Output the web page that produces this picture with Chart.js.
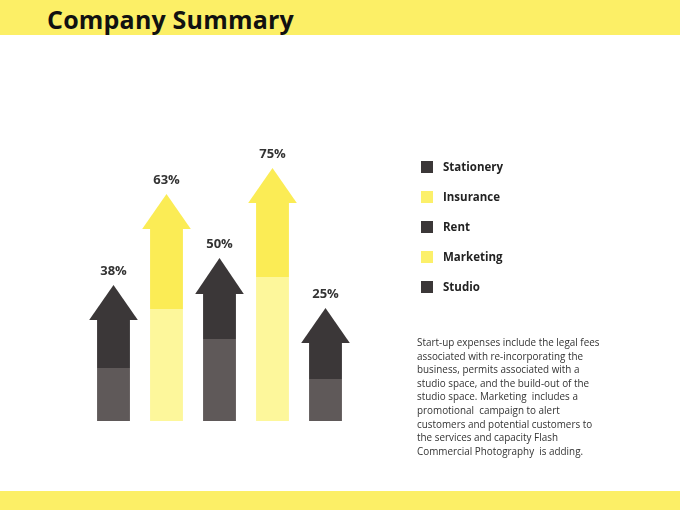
<!DOCTYPE html>
<html>
<head>
<meta charset="utf-8">
<script src="https://cdn.jsdelivr.net/npm/chart.js@4.4.1/dist/chart.umd.min.js"></script>
<style>
  html, body { margin: 0; padding: 0; background: #fff; }
  body { width: 680px; height: 510px; position: relative; overflow: hidden; font-family: "Open Sans", sans-serif; }
  #topbar { position: absolute; left: 0; top: 0; width: 680px; height: 35px; background: #fcef66; }
  #title { position: absolute; left: 47px; top: 2px; font-size: 25px; font-weight: 700; color: #111; letter-spacing: 0.2px; }
  #bottombar { position: absolute; left: 0; top: 491px; width: 680px; height: 19px; background: #fcef66; }
  #chartbox { position: absolute; left: 0; top: 0; width: 680px; height: 510px; }
  .leg { position: absolute; left: 421px; height: 14px; font-size: 11.5px; font-weight: 700; color: #222; }
  .leg span.sw { position: absolute; left: 0; top: 1px; width: 12px; height: 12px; }
  .leg span.tx { position: absolute; left: 22px; top: -1px; white-space: nowrap; }
  #note { position: absolute; left: 417px; top: 336px; white-space: nowrap; font-size: 9.9px; line-height: 13.6px; color: #333; }
</style>
</head>
<body>
<div id="topbar"></div>
<div id="title">Company Summary</div>
<div id="bottombar"></div>
<div id="chartbox"><canvas id="arrows"></canvas></div>
<div id="legend"></div>
<div id="note">Start-up expenses include the legal fees<br>associated with re-incorporating the<br>business, permits associated with a<br>studio space, and the build-out of the<br>studio space. Marketing&nbsp; includes a<br>promotional&nbsp; campaign to alert<br>customers and potential customers to<br>the services and capacity Flash<br>Commercial Photography&nbsp; is adding.</div>
<script>
// categories and shown percentages
const categories = ['Stationery', 'Insurance', 'Rent', 'Marketing', 'Studio'];
const percentLabels = ['38%', '63%', '50%', '75%', '25%'];
// arrow heights (chart units, bottom = 0)
const lightTop = [53, 112, 82, 144, 42];
const shaftTop = [101, 192, 127, 218, 78];
const tipTop = [136, 227, 163, 253, 113];

const darkTone = ['#3b3738', '#fbec55', '#3b3738', '#fbec55', '#3b3738'];
const lightTone = ['#5f5959', '#fdf79b', '#5f5959', '#fdf79b', '#5f5959'];
const legendTone = ['#3b3738', '#fcf06a', '#3b3738', '#fcf06a', '#3b3738'];

// legend built from categories
const legendEl = document.getElementById('legend');
categories.forEach((c, i) => {
    const d = document.createElement('div');
    d.className = 'leg';
    d.style.top = (160 + i * 30) + 'px';
    d.innerHTML = '<span class="sw" style="background:' + legendTone[i] + '"></span><span class="tx">' + c + '</span>';
    legendEl.appendChild(d);
});

const arrowHeads = {
    id: 'arrowHeads',
    afterDatasetsDraw(chart) {
        const ctx = chart.ctx;
        const y = chart.scales.y;
        const meta = chart.getDatasetMeta(1);
        meta.data.forEach((bar, i) => {
            const half = bar.width * 0.74;
            const base = y.getPixelForValue(shaftTop[i]);
            const tip = y.getPixelForValue(tipTop[i]);
            ctx.save();
            ctx.fillStyle = darkTone[i];
            ctx.beginPath();
            ctx.moveTo(bar.x - half, base);
            ctx.lineTo(bar.x, tip);
            ctx.lineTo(bar.x + half, base);
            ctx.closePath();
            ctx.fill();
            ctx.fillStyle = '#333';
            ctx.font = 'bold 13px "Open Sans"';
            ctx.textAlign = 'center';
            ctx.textBaseline = 'middle';
            ctx.fillText(percentLabels[i], bar.x, tip - 14);
            ctx.restore();
        });
    }
};

const ctx = document.getElementById('arrows').getContext('2d');
const chart = new Chart(ctx, {
    type: 'bar',
    data: {
        labels: categories,
        datasets: [{
            label: 'lower',
            data: lightTop,
            backgroundColor: lightTone,
            barPercentage: 0.62,
            categoryPercentage: 1
        }, {
            label: 'upper',
            data: shaftTop.map((v, i) => v - lightTop[i]),
            backgroundColor: darkTone,
            barPercentage: 0.62,
            categoryPercentage: 1
        }]
    },
    options: {
        responsive: true,
        maintainAspectRatio: false,
        animation: false,
        layout: { padding: { left: 87, right: 328, top: 121, bottom: 89 } },
        plugins: { legend: { display: false }, tooltip: { enabled: false } },
        scales: {
            x: { stacked: true, display: false },
            y: { stacked: true, display: false, min: 0, max: 300 }
        }
    },
    plugins: [arrowHeads]
});
</script>
</body>
</html>
